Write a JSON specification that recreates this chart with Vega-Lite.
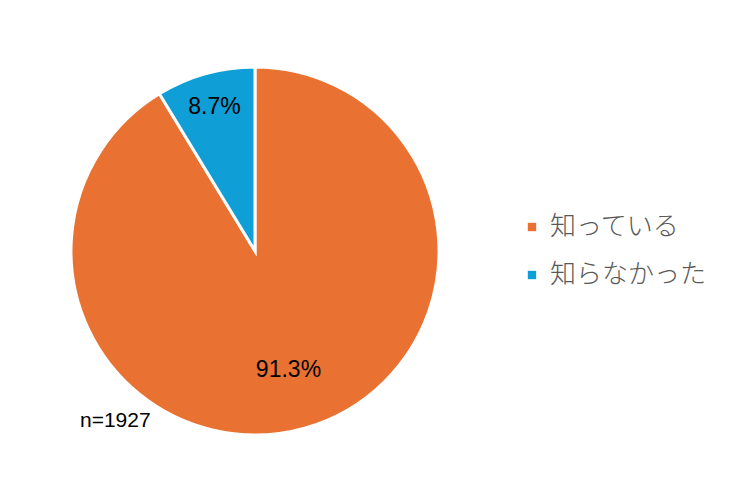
{
  "$schema": "https://vega.github.io/schema/vega-lite/v6.json",
  "width": 510,
  "height": 502,
  "padding": 0,
  "background": "white",
  "data": {"values": [
    {"answer": "知っている", "pct": 91.3, "label": "91.3%"},
    {"answer": "知らなかった", "pct": 8.7, "label": "8.7%"}
  ]},
  "title": {"text": "n=1927", "orient": "bottom", "anchor": "start", "dx": 80, "offset": -92, "fontSize": 21, "font": "Liberation Sans", "fontWeight": "normal", "color": "#000000"},
  "encoding": {
    "theta": {"field": "pct", "type": "quantitative", "stack": true},
    "color": {
      "field": "answer", "type": "nominal",
      "sort": ["知っている", "知らなかった"],
      "scale": {"domain": ["知っている", "知らなかった"], "range": ["#E97132", "#0F9ED5"]},
      "legend": {
        "title": null, "orient": "none", "legendX": 519, "legendY": 214,
        "symbolType": "square", "symbolSize": 70, "symbolStrokeWidth": 0,
        "labelFont": "Noto Sans CJK JP", "labelFontSize": 26, "labelFontWeight": 300, "labelColor": "#595959",
        "rowPadding": 22, "labelOffset": 5
      }
    },
    "order": {"field": "pct", "type": "quantitative", "sort": "descending"}
  },
  "layer": [
    {"mark": {"type": "arc", "outerRadius": 184, "stroke": "white", "strokeWidth": 3}},
    {"mark": {"type": "text", "fontSize": 23, "font": "Liberation Sans", "color": "#000000"},
     "encoding": {
       "text": {"field": "label"},
       "color": {"value": "#000000"},
       "radius": {"field": "pct", "type": "quantitative", "scale": {"type": "linear", "domain": [8.7, 91.3], "range": [150, 124], "zero": false}}
     }}
  ]
}
